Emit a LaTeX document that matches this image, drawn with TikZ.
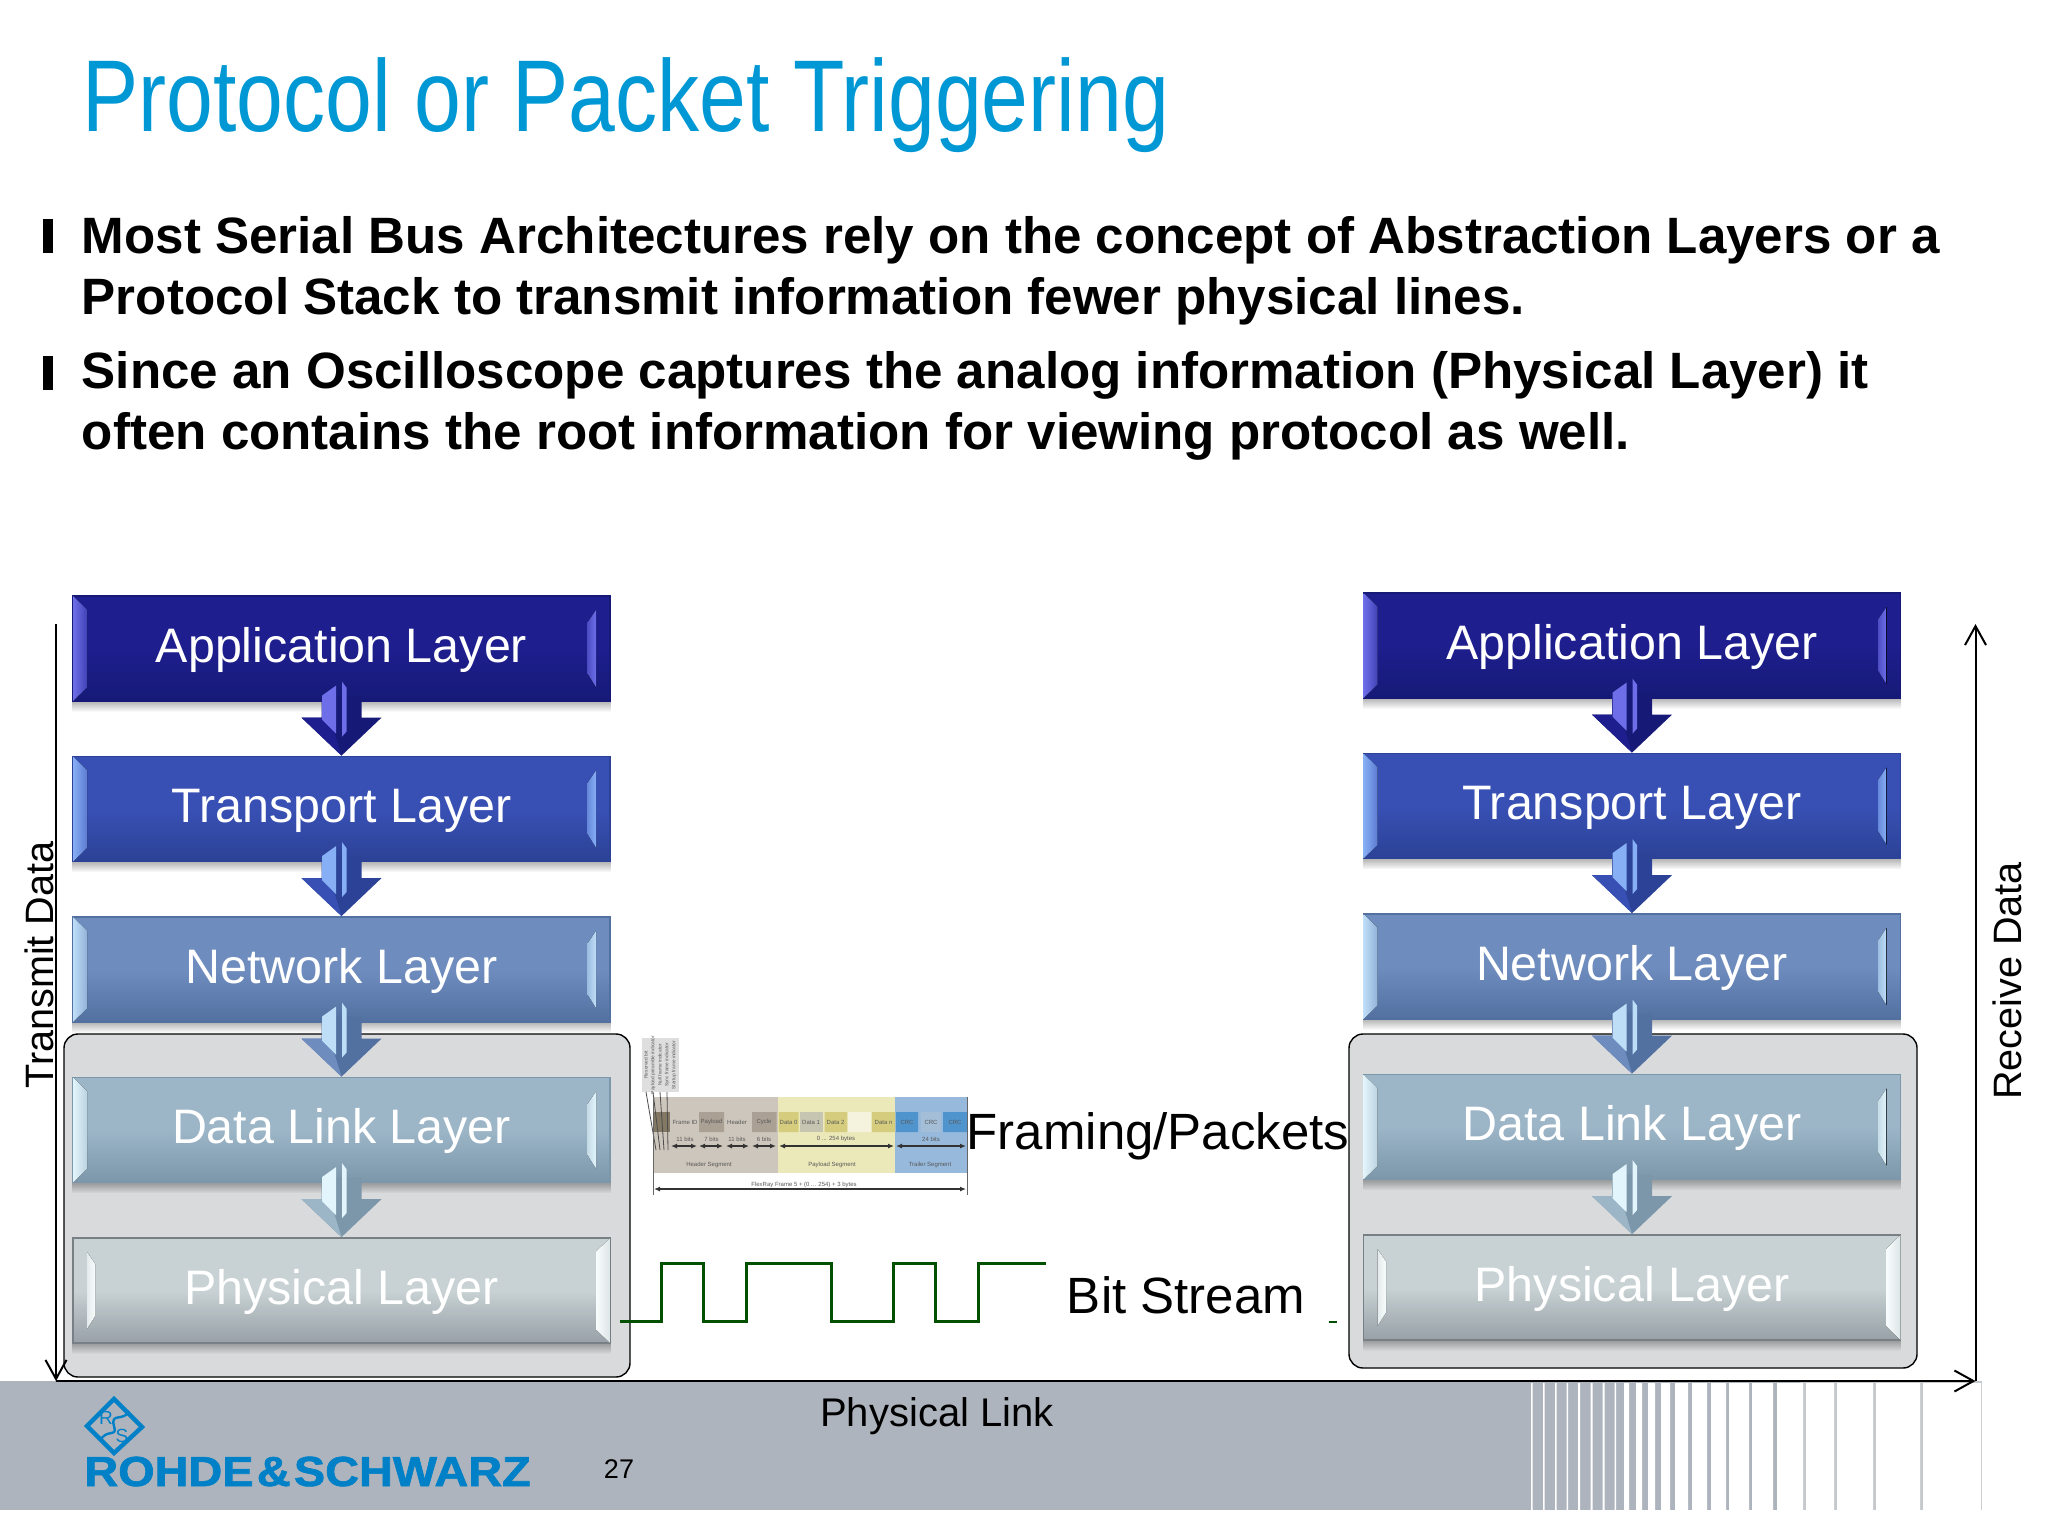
\documentclass[tikz,border=0pt]{standalone}
\usepackage{fontspec}
\setmainfont{Liberation Sans}
\newfontfamily\logofont{Liberation Sans}[BoldFeatures={FakeBold=1.5}]
\usepackage{tikz}
\usetikzlibrary{calc,fadings,arrows.meta}

\definecolor{titleblue}{RGB}{0,152,212}
\definecolor{logoblue}{RGB}{0,128,198}
\definecolor{footgray}{RGB}{174,180,189}
\definecolor{footlight}{RGB}{198,201,204}
\definecolor{boxgray}{RGB}{217,218,220}
\definecolor{wavegreen}{RGB}{0,80,0}
\definecolor{appmain}{RGB}{30,30,142}
\definecolor{appdark}{RGB}{22,26,118}
\definecolor{appshine}{RGB}{110,110,232}
\definecolor{tramain}{RGB}{56,80,180}
\definecolor{tradark}{RGB}{44,66,150}
\definecolor{trashine}{RGB}{135,175,245}
\definecolor{netmain}{RGB}{110,140,190}
\definecolor{netdark}{RGB}{82,112,160}
\definecolor{netshine}{RGB}{190,222,248}
\definecolor{dlmain}{RGB}{156,182,200}
\definecolor{dldark}{RGB}{124,150,170}
\definecolor{dlshine}{RGB}{226,245,252}
\definecolor{phymain}{RGB}{200,210,212}
\definecolor{phydark}{RGB}{150,160,166}
\definecolor{physhine}{RGB}{248,252,252}
\definecolor{headseg}{RGB}{205,198,188}
\definecolor{headdark}{RGB}{170,160,148}
\definecolor{headhatch}{RGB}{130,120,100}
\definecolor{loadseg}{RGB}{235,232,185}
\definecolor{loaddark}{RGB}{213,205,125}
\definecolor{loadgray}{RGB}{197,197,178}
\definecolor{loadpale}{RGB}{245,243,222}
\definecolor{tailseg}{RGB}{150,185,220}
\definecolor{taildark}{RGB}{80,148,205}
\definecolor{taillight}{RGB}{165,190,215}
\definecolor{flagbox}{RGB}{222,222,222}

\newcommand{\layerbevel}[4]{
  \begin{scope}[shift={(#1.center)},xscale=#3]
    \fill[left color=#2,right color=#2!45!#4] (-268.5,-52.5) -- (-254.5,-39) -- (-254.5,39) -- (-268.5,52.5) -- cycle;
    \fill[left color=#2!60!#4,right color=#2] (254.5,-38.5) -- (246,-26) -- (246,25) -- (254.5,38.5) -- cycle;
  \end{scope}
  \fill[black,opacity=.28,path fading=south] (#1.south west) rectangle ($(#1.south east)+(0,10)$);
}
\newcommand{\layerarrow}[5]{
  \fill[#4] ($(#1.south)+(-20,-6)$) -- ($(#1.south)+(20,-6)$) -- ($(#2.north)+(20,-38)$)
    -- ($(#2.north)+(40,-38)$) -- (#2.north) -- ($(#2.north)+(-40,-38)$)
    -- ($(#2.north)+(-20,-38)$) -- cycle;
  \fill[#3] ($(#2.north)+(-40,-38)$) -- ($(#2.north)+(-20,-38)$) -- ($(#2.north)+(-8,-26)$) -- (#2.north) -- cycle;
  \fill[#5] ($(#2.north)+(-19.5,-60)$) -- ($(#2.north)+(-5.5,-70)$) -- ($(#2.north)+(-5.5,-22)$)
    -- ($(#2.north)+(-19.5,-36)$) -- cycle;
  \fill[#5] ($(#2.north)+(.5,-74)$) -- ($(#2.north)+(5,-68)$) -- ($(#2.north)+(5,-24)$)
    -- ($(#2.north)+(.5,-19)$) -- cycle;
}

\begin{document}
\begin{tikzpicture}[x=0.5pt,y=-0.5pt,>={Straight Barb[length=9.5pt,width=10.5pt]}]
  \tikzstyle{layer}=[rectangle,minimum width=268.5pt,minimum height=52.5pt,inner sep=0pt,line width=.9pt,text=white,text height=19pt,text depth=5.1pt,font=\fontsize{24.2}{28}\selectfont]
  \tikzstyle{app}=[layer,top color=appmain,bottom color=appdark,middle color=appmain,draw=appdark]
  \tikzstyle{tra}=[layer,top color=tramain,bottom color=tradark,middle color=tramain,draw=tradark]
  \tikzstyle{net}=[layer,top color=netmain,bottom color=netdark,middle color=netmain,draw=netdark]
  \tikzstyle{dl}=[layer,top color=dlmain,bottom color=dldark,middle color=dlmain,draw=dldark]
  \tikzstyle{phy}=[layer,top color=phymain,bottom color=phydark,middle color=phymain,draw=phydark!80!black]
  \tikzstyle{stack}=[rectangle,rounded corners=7pt,draw=black,line width=.7pt,fill=boxgray]
  \tikzstyle{axislabel}=[font=\fontsize{19.8}{24}\selectfont,rotate=90]
  \tikzstyle{biglabel}=[font=\fontsize{25.5}{30}\selectfont]
  \tikzstyle{bodytext}=[anchor=north west,align=left,inner sep=0pt,font=\fontsize{25.56}{30.75}\selectfont\bfseries]
  \tikzstyle{bulletbar}=[rectangle,fill=black,minimum width=5pt,minimum height=17pt,inner sep=0pt]
  \tikzstyle{frametext}=[inner sep=0pt,text=black!65,font=\fontsize{3}{3}\selectfont]
  \tikzstyle{flagtext}=[frametext,rotate=90,font=\fontsize{2.4}{3}\selectfont]
  \tikzstyle{framedim}=[{Latex[length=3pt,width=2.5pt]}-{Latex[length=3pt,width=2.5pt]},black!80,line width=.6pt]
  \useasboundingbox (0,0) rectangle (2048,1536);

  \node[anchor=base west,inner sep=0pt,text=titleblue,font=\fontsize{51}{57}\selectfont] (title) at (82,131.5) {\scalebox{.825}[1]{Protocol or Packet Triggering}};
  \node[bulletbar] (bullet_1) at (48,236) {};
  \node[bodytext] (body_1) at (81.5,216) {Most Serial Bus Architectures rely on the concept of Abstraction Layers or a\\Protocol Stack to transmit information fewer physical lines.};
  \node[bulletbar] (bullet_2) at (48,373) {};
  \node[bodytext] (body_2) at (81.5,351) {Since an Oscilloscope captures the analog information (Physical Layer) it\\often contains the root information for viewing protocol as well.};

  \fill[footgray] (0,1381) rectangle (1800,1510);
  \fill[footlight] (1800,1381) rectangle (1982,1510);
  \fill[white] (1531,1383) rectangle (1532.5,1511) (1543,1383) rectangle (1544.5,1511)
    (1555,1383) rectangle (1556.5,1511) (1566.5,1383) rectangle (1568,1511)
    (1578,1383) rectangle (1580,1511) (1590.5,1383) rectangle (1592.5,1511)
    (1602.5,1383) rectangle (1604.5,1511) (1614.5,1383) rectangle (1616,1511)
    (1624,1383) rectangle (1629,1511) (1636,1383) rectangle (1642,1511)
    (1648,1383) rectangle (1655,1511) (1661,1383) rectangle (1670,1511)
    (1675,1383) rectangle (1688,1511) (1692,1383) rectangle (1707,1511)
    (1711,1383) rectangle (1726,1511) (1729,1383) rectangle (1749,1511)
    (1752,1383) rectangle (1773,1511) (1777,1383) rectangle (1803,1511)
    (1806,1383) rectangle (1834,1511) (1837,1383) rectangle (1873,1511)
    (1876,1383) rectangle (1920,1511) (1923,1383) rectangle (1981,1511);

  \filldraw[stack] (64,1034) rectangle (630,1377);
  \filldraw[stack] (1349,1034) rectangle (1917,1368);

  \node[app] (L_1) at (341.5,648.5) {Application Layer};
  \node[tra] (L_2) at (341.5,809) {Transport Layer};
  \node[net] (L_3) at (341.5,969.5) {Network Layer};
  \node[dl] (L_4) at (341.5,1130) {Data Link Layer};
  \node[phy] (L_5) at (341.5,1290.5) {Physical Layer};
  \node[app] (R_1) at (1632,645.5) {Application Layer};
  \node[tra] (R_2) at (1632,806) {Transport Layer};
  \node[net] (R_3) at (1632,966.5) {Network Layer};
  \node[dl] (R_4) at (1632,1127) {Data Link Layer};
  \node[phy] (R_5) at (1632,1287.5) {Physical Layer};

  \layerbevel{L_1}{appshine}{1}{appmain}
  \layerbevel{L_2}{trashine}{1}{tramain}
  \layerbevel{L_3}{netshine}{1}{netmain}
  \layerbevel{L_4}{dlshine}{1}{dlmain}
  \layerbevel{L_5}{physhine}{-1}{phymain}
  \layerbevel{R_1}{appshine}{1}{appmain}
  \layerbevel{R_2}{trashine}{1}{tramain}
  \layerbevel{R_3}{netshine}{1}{netmain}
  \layerbevel{R_4}{dlshine}{1}{dlmain}
  \layerbevel{R_5}{physhine}{-1}{phymain}

  \layerarrow{L_1}{L_2}{appmain}{appdark}{appshine}
  \layerarrow{L_2}{L_3}{tramain}{tradark}{trashine}
  \layerarrow{L_3}{L_4}{netmain}{netdark}{netshine}
  \layerarrow{L_4}{L_5}{dlmain}{dldark}{dlshine}
  \layerarrow{R_1}{R_2}{appmain}{appdark}{appshine}
  \layerarrow{R_2}{R_3}{tramain}{tradark}{trashine}
  \layerarrow{R_3}{R_4}{netmain}{netdark}{netshine}
  \layerarrow{R_4}{R_5}{dlmain}{dldark}{dlshine}

  \coordinate (T_top) at (56,624);
  \coordinate (T_bot) at (56,1381);
  \coordinate (R_end) at (1975.5,1381);
  \coordinate (R_top) at (1975.5,624);
  \draw[->,line width=1pt] (T_top) -- (T_bot);
  \draw[->,line width=1pt] (T_bot) -- (R_end);
  \draw[->,line width=1pt] (R_end) -- (R_top);
  \node[axislabel] (T_label) at (39,965) {Transmit Data};
  \node[axislabel] (R_label) at (2007,981) {Receive Data};
  \node[font=\fontsize{20}{24}\selectfont] (link) at (937,1416) {Physical Link};
  \node[biglabel] (frames) at (1158,1136) {Framing/Packets};
  \node[biglabel] (bits) at (1186,1295) {Bit Stream};
  \node[font=\fontsize{13.5}{16}\selectfont] (page) at (619,1469) {27};

  \draw[wavegreen,line width=1.5pt] (620,1321.5) -- (661,1321.5) -- (661,1263) -- (703.5,1263) -- (703.5,1321.5)
    -- (746,1321.5) -- (746,1263) -- (831,1263) -- (831,1321.5) -- (893,1321.5) -- (893,1263) -- (935.5,1263)
    -- (935.5,1321.5) -- (978,1321.5) -- (978,1263) -- (1045.5,1263);
  \draw[wavegreen,line width=1pt] (1329,1321.5) -- (1336.5,1321.5);

  \fill[flagbox] (642,1038) rectangle (679,1092);
  \node[flagtext] (flag_1) at (646,1065) {Reserved bit};
  \node[flagtext] (flag_2) at (653,1065) {Payload preamble indicator};
  \node[flagtext] (flag_3) at (660,1065) {Null frame indicator};
  \node[flagtext] (flag_4) at (667,1065) {Sync frame indicator};
  \node[flagtext] (flag_5) at (674,1065) {Startup frame indicator};
  \fill[headseg] (653,1097) rectangle (777.5,1173);
  \fill[loadseg] (777.5,1097) rectangle (895,1173);
  \fill[tailseg] (895,1097) rectangle (967,1173);
  \fill[headhatch] (653,1112) rectangle (670,1132);
  \fill[headdark] (699,1112) rectangle (724,1132) (752,1112) rectangle (776.5,1132);
  \fill[loaddark] (778.5,1112) rectangle (798.5,1132) (824.5,1112) rectangle (847,1132) (872,1112) rectangle (895,1132);
  \fill[loadgray] (800,1112) rectangle (822.5,1132);
  \fill[loadpale] (848,1112) rectangle (871,1132);
  \fill[taildark] (896,1112) rectangle (918,1132) (943,1112) rectangle (967,1132);
  \fill[taillight] (920.5,1112) rectangle (941,1132);
  \draw[black!70,line width=.4pt] (646,1092) -- (656,1150) (653,1092) -- (660,1150) (660,1092) -- (664,1150) (667,1092) -- (668,1150);
  \draw[black!60,line width=.5pt] (653,1097) -- (653,1195) (967,1097) -- (967,1195);
  \node[frametext] (f_1) at (685,1122) {Frame ID};
  \node[frametext] (f_2) at (711.5,1122) {Payload};
  \node[frametext] (f_3) at (737,1122) {Header};
  \node[frametext] (f_4) at (764,1122) {Cycle};
  \node[frametext] (d_1) at (788.5,1122) {Data 0};
  \node[frametext] (d_2) at (811,1122) {Data 1};
  \node[frametext] (d_3) at (835.5,1122) {Data 2};
  \node[frametext] (d_4) at (883.5,1122) {Data n};
  \node[frametext] (c_1) at (907,1122) {CRC};
  \node[frametext] (c_2) at (931,1122) {CRC};
  \node[frametext] (c_3) at (955,1122) {CRC};
  \node[frametext] (b_1) at (685,1139) {11 bits};
  \node[frametext] (b_2) at (711.5,1139) {7 bits};
  \node[frametext] (b_3) at (737,1139) {11 bits};
  \node[frametext] (b_4) at (764,1139) {6 bits};
  \node[frametext] (b_5) at (836,1139) {0 ... 254 bytes};
  \node[frametext] (b_6) at (931,1139) {24 bits};
  \node[frametext] (s_1) at (709,1165) {Header Segment};
  \node[frametext] (s_2) at (832,1165) {Payload Segment};
  \node[frametext] (s_3) at (930,1165) {Trailer Segment};
  \node[frametext] (total) at (804,1185) {FlexRay Frame 5 + (0 ... 254) + 3 bytes};
  \draw[framedim] (671,1146) -- (697,1146);
  \draw[framedim] (699,1146) -- (723,1146);
  \draw[framedim] (726,1146) -- (749,1146);
  \draw[framedim] (752,1146) -- (776,1146);
  \draw[framedim] (779,1146) -- (894,1146);
  \draw[framedim] (896,1146) -- (966,1146);
  \draw[framedim] (654,1189) -- (966,1189);

  \draw[logoblue,line width=2.2pt] (87,1426) -- (114,1399) -- (142,1427) -- (114,1453) -- cycle;
  \draw[logoblue,line width=1.2pt] (100,1441) .. controls (106,1428) and (118,1438) .. (114,1426) .. controls (110,1412) and (124,1422) .. (129,1411);
  \node[inner sep=0pt,text=logoblue,font=\fontsize{9.5}{9}\selectfont] (logo_r) at (106,1418) {R};
  \node[inner sep=0pt,text=logoblue,font=\fontsize{9.5}{9}\selectfont] (logo_s) at (122,1436) {S};
  \node[anchor=base west,inner sep=0pt,text=logoblue,font=\fontsize{21}{24}\logofont\bfseries] (logo) at (84,1486) {\scalebox{1.115}[1]{ROHDE\kern1.5pt\&\kern1.5pt SCHWARZ}};
\end{tikzpicture}
\end{document}
